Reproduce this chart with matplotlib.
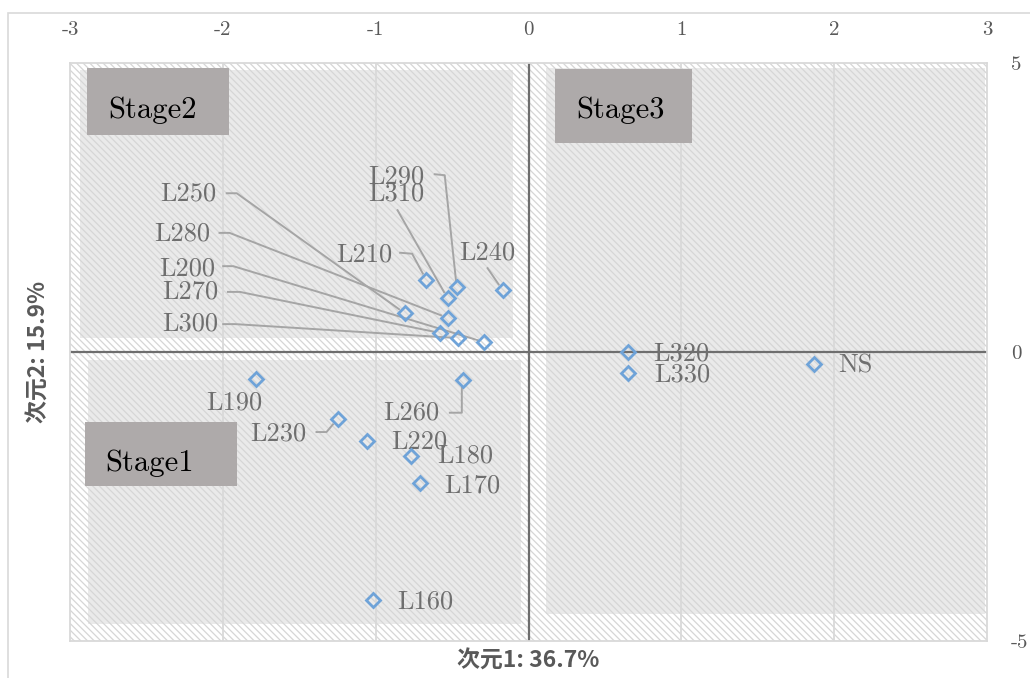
import matplotlib
matplotlib.use("Agg")
import matplotlib.pyplot as plt
import matplotlib.transforms as mtransforms
from matplotlib.patches import Rectangle

plt.rcParams['axes.unicode_minus'] = False
plt.rcParams['hatch.linewidth'] = 0.9

# Correspondence-analysis coordinates of each sample
labels = ["L160", "L170", "L180", "L190", "L200", "L210", "L220", "L230", "L240", "L250",
          "L260", "L270", "L280", "L290", "L300", "L310", "L320", "L330", "NS"]
dim1 = [-1.02, -0.71, -0.77, -1.78, -0.29, -0.67, -1.06, -1.25, -0.17, -0.81,
        -0.43, -0.58, -0.53, -0.47, -0.46, -0.53, 0.65, 0.65, 1.87]
dim2 = [-4.29, -2.27, -1.80, -0.47, 0.17, 1.25, -1.54, -1.16, 1.07, 0.67,
        -0.48, 0.33, 0.59, 1.12, 0.24, 0.93, 0.00, -0.36, -0.21]

x_ticks = [-3, -2, -1, 0, 1, 2, 3]
y_ticks = [-5, 0, 5]
x_title = "次元1: 36.7%"
y_title = "次元2: 15.9%"
stage_names = ["Stage1", "Stage2", "Stage3"]

# Label placement: offset of the text from its point in pixels (x right, y down),
# horizontal alignment, and leader-line vertices (also pixel offsets).
label_layout = {
    "L160": ((25, 2), "left", None),
    "L170": ((24, 2), "left", None),
    "L180": ((26, 0), "left", None),
    "L220": ((25, 1), "left", None),
    "L320": ((25, 2), "left", None),
    "L330": ((26, 2), "left", None),
    "NS":   ((24, 2), "left", None),
    "L190": ((-22, 23), "center", None),
    "L230": ((-31, 15), "right", [(-21, 13), (-11, 13)]),
    "L260": ((-23, 33), "right", [(-13, 33), (-1, 33), (-1, 10)]),
    "L240": ((-15, -38), "center", [(-15, -22)]),
    "L290": ((-32, -111), "right", [(-22, -113), (-12, -112)]),
    "L310": ((-23, -105), "right", [(-50, -88)]),
    "L210": ((-34, -25), "right", [(-26, -27), (-14, -26)]),
    "L250": ((-188, -120), "right", [(-178, -120), (-168, -120)]),
    "L280": ((-237, -84), "right", [(-228, -85), (-218, -85)]),
    "L200": ((-269, -74), "right", [(-261, -76), (-251, -76)]),
    "L270": ((-222, -41), "right", [(-212, -41), (-200, -41)]),
    "L300": ((-240, -14), "right", [(-235, -14), (-223, -14)]),
}

serif = "cmr10"
label_color = "#6f6f6f"
tick_color = "#595959"
marker_color = "#6fa3d8"
grid_color = "#d9d9d9"

fig = plt.figure(figsize=(10.30, 6.78), dpi=100)
ax = fig.add_axes([0.0680, 0.0546, 0.8903, 0.8525])
ax.set_xlim(x_ticks[0], x_ticks[-1])
ax.set_ylim(y_ticks[0], y_ticks[-1])
ax.autoscale(False)

# Outer chart frame
fig.patches.append(Rectangle((8 / 1030, -0.05), 1.2, 1 - 13 / 678 + 0.05,
                             transform=fig.transFigure, fill=False,
                             ec=grid_color, lw=1.2, zorder=0))

# Hatched plot-area background
ax.set_facecolor("white")
ax.add_patch(Rectangle((0, 0), 1, 1, transform=ax.transAxes, fc="white",
                       ec="#d6d6d6", lw=0, hatch="\\\\\\\\\\", zorder=0))

# Shaded stage regions (axes fractions)
regions = [
    (0.0196, 0.0294, 0.4918, 0.4862),
    (0.0109, 0.5242, 0.4831, 0.9879),
    (0.5191, 0.0467, 0.9978, 0.9913),
]
for x0, y0, x1, y1 in regions:
    ax.add_patch(Rectangle((x0, y0), x1 - x0, y1 - y0, transform=ax.transAxes,
                           fc="#eaeaea", ec="#d6d6d6", lw=0, hatch="\\\\\\\\\\", zorder=0.5))

# Vertical gridlines
for xt in x_ticks[1:-1]:
    ax.axvline(xt, color=grid_color, lw=1.3, zorder=1)

# Axis lines through the origin
ax.axvline(0, color="#6e6e6e", lw=1.6, zorder=2)
ax.axhline(0, color="#6e6e6e", lw=1.6, zorder=2)

for sp in ax.spines.values():
    sp.set_color(grid_color)
    sp.set_linewidth(1.3)

# Ticks: x on top, y on the right
ax.xaxis.tick_top()
ax.yaxis.tick_right()
ax.set_xticks(x_ticks)
ax.set_xticklabels([str(v) for v in x_ticks], fontfamily=serif, fontsize=15, color=tick_color)
ax.set_yticks(y_ticks)
ax.set_yticklabels([str(v) for v in y_ticks], fontfamily=serif, fontsize=15, color=tick_color)
ax.tick_params(axis="x", length=0, pad=17)
ax.tick_params(axis="y", length=0, pad=17)

ax.set_xlabel(x_title, family=["Noto Sans CJK JP", "DejaVu Sans"], fontsize=16.5,
              fontweight="bold", color=tick_color, labelpad=6)
ax.set_ylabel(y_title, family=["Noto Sans CJK JP", "DejaVu Sans"], fontsize=16.5,
              fontweight="bold", color=tick_color, labelpad=14)
ax.yaxis.set_label_position("left")


def pixel_offset(x, y):
    """Transform for pixel offsets (y down) around a data point."""
    return mtransforms.Affine2D().scale(1, -1) + mtransforms.ScaledTranslation(x, y, ax.transData)


# Points
ax.plot(dim1, dim2, linestyle="none", marker="D", ms=7.5, mfc="none",
        mec=marker_color, mew=2.0, zorder=5)

# Labels and leader lines
for name, x, y in zip(labels, dim1, dim2):
    (dx, dy), ha, leader = label_layout[name]
    tr = pixel_offset(x, y)
    ax.text(dx, dy, name, transform=tr, ha=ha, va="center", fontfamily=serif,
            fontsize=19, color=label_color, zorder=4, clip_on=False)
    if leader:
        pts = list(leader)
        lx, ly = pts[-1]
        dist = (lx ** 2 + ly ** 2) ** 0.5
        shrink = 7.0
        ex, ey = lx * shrink / dist, ly * shrink / dist
        pts.append((ex, ey))
        ax.plot([p[0] for p in pts], [p[1] for p in pts], transform=tr,
                color="#a5a5a5", lw=1.4, zorder=3, clip_on=False)

# Stage boxes
stage_boxes = {
    "Stage1": ((0.0164, 0.2682, 0.1821, 0.3789), (0.0382, 0.308)),
    "Stage2": ((0.0185, 0.8754, 0.1734, 0.9913), (0.0414, 0.9187)),
    "Stage3": ((0.5289, 0.8616, 0.6783, 0.9896), (0.5518, 0.9187)),
}
for name in stage_names:
    (x0, y0, x1, y1), (tx, ty) = stage_boxes[name]
    ax.add_patch(Rectangle((x0, y0), x1 - x0, y1 - y0, transform=ax.transAxes,
                           fc="#aeaaaa", ec="none", zorder=6))
    ax.text(tx, ty, name, transform=ax.transAxes, ha="left", va="center",
            fontfamily=serif, fontsize=22, color="black", zorder=7)

fig.savefig("out.png", dpi=100)
